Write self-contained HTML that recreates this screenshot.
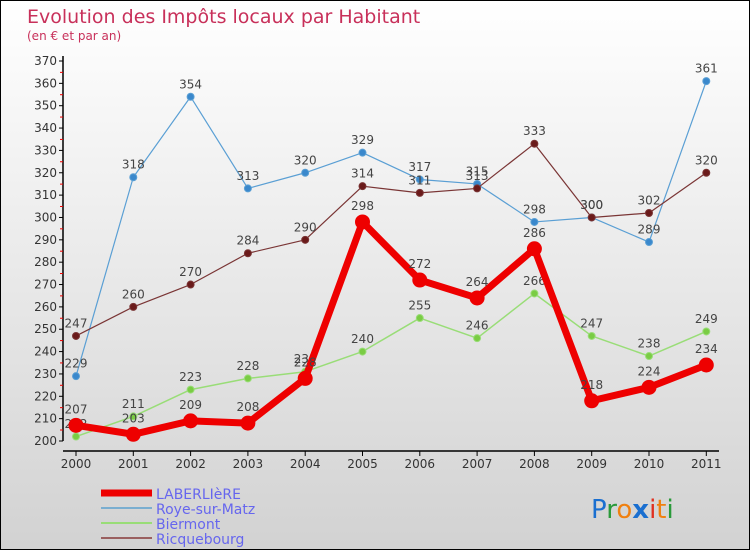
<!DOCTYPE html>
<html><head><meta charset="utf-8"><style>
body{margin:0}
#c{position:relative;width:748px;height:548px;border:1px solid #000;background:linear-gradient(#fff,#f2f2f2 30%,#d2d2d2);font-family:"DejaVu Sans","Liberation Sans",sans-serif;overflow:hidden}
</style></head><body>
<div id="c">
<svg width="748" height="548" id="s">
<text x="26" y="22" font-size="19" fill="#c8305a">Evolution des Impôts locaux par Habitant</text>
<text x="26" y="39" font-size="12" fill="#c8305a">(en € et par an)</text>
<g id="g"></g>
<text x="590" y="517" font-size="26" font-family="DejaVu Sans"><tspan fill="#1a6fd0">P</tspan><tspan fill="#2a9a3a">r</tspan><tspan fill="#f08010">o</tspan><tspan fill="#1a6fd0" font-weight="bold">x</tspan><tspan fill="#e03020">i</tspan><tspan fill="#f08010">t</tspan><tspan fill="#2a9a3a">i</tspan></text>
</svg></div>
<script>
const years=["2000","2001","2002","2003","2004","2005","2006","2007","2008","2009","2010","2011"];
const laberliere=[207,203,209,208,228,298,272,264,286,218,224,234];
const roye=[229,318,354,313,320,329,317,315,298,300,289,361];
const biermont=[202,211,223,228,231,240,255,246,266,247,238,249];
const ricquebourg=[247,260,270,284,290,314,311,313,333,300,302,320];
const yTicks=[200,210,220,230,240,250,260,270,280,290,300,310,320,330,340,350,360,370];
const NS="http://www.w3.org/2000/svg";
const g=document.getElementById('g');
const X=i=>75+i*57.3, Y=v=>440-(v-200)*380/170;
function el(t,a,p){const e=document.createElementNS(NS,t);for(const k in a)e.setAttribute(k,a[k]);(p||g).appendChild(e);return e;}
let a=el('line',{x1:62,y1:55,x2:62,y2:440,stroke:'#000','stroke-width':1.5});


a=el('line',{x1:62,y1:450,x2:718,y2:450,stroke:'#000','stroke-width':1.5});


yTicks.forEach(v=>{const y=Y(v);el('line',{x1:58,y1:y,x2:62,y2:y,stroke:'#000'});
 if(v<370)el('line',{x1:59,y1:y-11,x2:62,y2:y-11,stroke:'#e00'});
 const t=el('text',{x:56,y:y+4,'font-size':12,'text-anchor':'end',fill:'#333'});t.textContent=v;
 
 });
years.forEach((yr,i)=>{el('line',{x1:X(i),y1:450,x2:X(i),y2:455,stroke:'#000'});
 const t=el('text',{x:X(i),y:467,'font-size':12,'text-anchor':'middle',fill:'#333'});t.textContent=yr;
 
 });
function series(d,col,w,r,fill,name){
 const p=el('polyline',{points:d.map((v,i)=>X(i)+','+Y(v)).join(' '),fill:'none',stroke:col,'stroke-width':w,'stroke-linejoin':'round'});
 
 
 d.forEach((v,i)=>{const c=el('circle',{cx:X(i),cy:Y(v),r:r,fill:fill,stroke:col,'stroke-width':1});
  
  
  const t=el('text',{x:X(i),y:Y(v)-(r+5),'font-size':12,'text-anchor':'middle',fill:'#444'});t.textContent=v;
  
  });
}
series(roye,'#5a9fd4',1.2,3.5,'#3a88cc','roye');
series(biermont,'#99dd77',1.5,3.5,'#7acc44','biermont');
series(ricquebourg,'#7a3535',1.2,3.5,'#6a1a1a','ricquebourg');
series(laberliere,'#ee0000',7,7,'#ee0000','laberliere');
const leg=[['LABERLIèRE','#ee0000',7],['Roye-sur-Matz','#7aaed0',2],['Biermont','#99dd77',2],['Ricquebourg','#9a6060',2]];
leg.forEach((l,i)=>{const y=492+i*15;
 const ln=el('line',{x1:100,y1:y,x2:151,y2:y,stroke:l[1],'stroke-width':l[2]});
 
 
 const t=el('text',{x:155,y:y+6,'font-size':14,fill:'#6666ee'});t.textContent=l[0];
 
 });
</script>
</body></html>
